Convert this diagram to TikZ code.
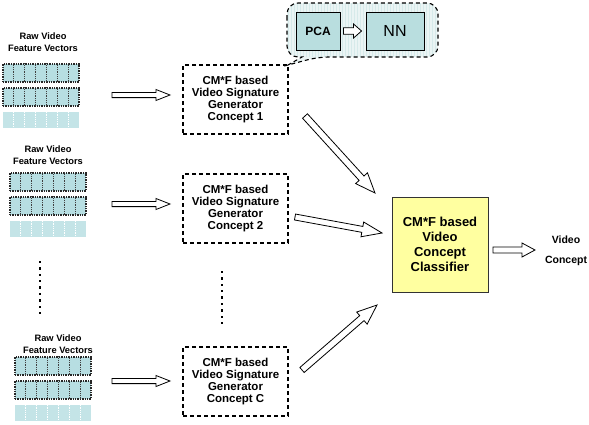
\documentclass[tikz,border=0pt]{standalone}
\usepackage{fontspec}
\setmainfont{Liberation Sans}
\usetikzlibrary{calc}
\definecolor{barfill}{RGB}{183,222,226}
\definecolor{barlightfill}{RGB}{196,228,231}
\definecolor{cloudfill}{RGB}{234,244,244}
\definecolor{cloudgrid}{RGB}{214,234,234}
\definecolor{boxfill}{RGB}{185,222,223}
\definecolor{yellowfill}{RGB}{255,255,160}
\tikzset{
  bar/.style={draw=black!85, densely dotted, line width=1.4pt, fill=barfill, minimum width=76pt, minimum height=18pt, inner sep=0pt},
  barlight/.style={fill=barlightfill, minimum width=76pt, minimum height=16pt, inner sep=0pt},
  divdark/.style={draw=black!75, densely dotted, line width=0.8pt},
  divlight/.style={draw=white, densely dotted, line width=0.8pt},
  lbl/.style={align=center, font=\bfseries\fontsize{9.3}{12}\selectfont, inner sep=0pt},
  gen/.style={draw=black, dashed, dash pattern=on 4pt off 3pt, line width=1.1pt, align=center, minimum width=105pt, minimum height=69pt, inner sep=0pt, font=\bfseries\fontsize{11.5}{12}\selectfont},
  classif/.style={draw=black!80, line width=0.6pt, fill=yellowfill, align=center, minimum width=96pt, minimum height=95pt, inner sep=0pt, font=\bfseries\fontsize{13}{15}\selectfont},
  smallbox/.style={draw=black, line width=0.9pt, fill=boxfill, inner sep=0pt},
  barrow/.style={draw=black, line width=0.8pt, fill=white, line join=miter},
  callout/.style={draw=black, dashed, dash pattern=on 4pt off 3pt, line width=1.1pt},
  outlbl/.style={align=center, font=\bfseries\fontsize{10.5}{20}\selectfont, inner sep=0pt},
  dotsq/.style={fill=black}
}
\newcommand{\fvgroup}[3]{%
  \node[bar] (#1a) at (#2,#3) {};
  \node[bar] (#1b) at (#2,#3+24) {};
  \node[barlight] (#1c) at (#2,#3+47) {};
  \foreach \n/\s in {a/divdark,b/divdark,c/divlight}{
    \foreach \i in {1,...,6}
      \draw[\s] ($(#1\n.north west)!\i/7!(#1\n.north east)$) -- ($(#1\n.south west)!\i/7!(#1\n.south east)$);
  }%
}
\newcommand{\blockarr}[5]{%
  \coordinate (bh) at ($(#2)!#5!(#1)$);
  \draw[barrow] ($(#1)!#3!90:(#2)$) -- ($(bh)!#3!90:(#2)$) -- ($(bh)!#4!90:(#2)$) -- (#2)
    -- ($(bh)!#4!-90:(#2)$) -- ($(bh)!#3!-90:(#2)$) -- ($(#1)!#3!-90:(#2)$) -- cycle;%
}
\begin{document}
\begin{tikzpicture}[x=1pt,y=-1pt]
\useasboundingbox (0,0) rectangle (589,424);

% callout cloud
\path[fill=cloudfill] (287,30) [rounded corners=11pt] -- (287,3) -- (438,3) -- (438,57) -- (318,57) [sharp corners] -- (288,65) -- (302,57) [rounded corners=11pt] -- (287,57) -- cycle;
\begin{scope}
  \clip[rounded corners=11pt] (287,3) rectangle (438,57);
  \draw[cloudgrid, line width=0.4pt, step=3] (287,3) grid (438,57);
\end{scope}
\draw[callout] (287,30) [rounded corners=11pt] -- (287,3) -- (438,3) -- (438,57) -- (318,57) [sharp corners] -- (288,65) -- (302,57) [rounded corners=11pt] -- (287,57) -- cycle;
\node[smallbox, minimum width=44pt, minimum height=38pt, font=\bfseries\fontsize{12}{13}\selectfont] (pca) at (318,31) {PCA};
\node[smallbox, minimum width=58pt, minimum height=38pt, font=\fontsize{16}{17}\selectfont] (nn) at (395,31) {NN};
\coordinate (pa1) at ($(pca.east)+(3,0)$);
\coordinate (pa2) at ($(nn.west)+(-4,0)$);
\blockarr{pa1}{pa2}{3.2pt}{7pt}{8pt}

% feature vector groups
\node[lbl] (lab1) at (43,42) {Raw Video\\Feature Vectors};
\fvgroup{ga}{41}{73}
\node[lbl] (lab2) at (48,155) {Raw Video\\Feature Vectors};
\fvgroup{gb}{48}{182}
\node[lbl] (lab3) at (58,344) {Raw Video\\Feature Vectors};
\fvgroup{gc}{53}{366}

% vertical dots
\foreach \k in {0,...,8} \fill[dotsq] (38.8,{262+6.4*\k-1.2}) rectangle ++(2.4,2.4);
\foreach \k in {0,...,8} \fill[dotsq] (220.8,{272+6.4*\k-1.2}) rectangle ++(2.4,2.4);

% generators
\node[gen] (gen1) at (235.5,99.5) {CM*F based\\Video Signature\\Generator\\Concept 1};
\node[gen] (gen2) at (235.5,208.5) {CM*F based\\Video Signature\\Generator\\Concept 2};
\node[gen] (gen3) at (235.5,381.5) {CM*F based\\Video Signature\\Generator\\Concept C};

% classifier
\node[classif] (cls) at (440,244.5) {CM*F based\\Video\\Concept\\Classifier};
\node[outlbl] (out) at (566,251) {Video\\Concept};

% arrows bars -> generators
\coordinate (h1s) at (112,95); \coordinate (h1e) at (170,95);
\coordinate (h2s) at (112,204); \coordinate (h2e) at (170,204);
\coordinate (h3s) at (112,381); \coordinate (h3e) at (170,381);
\blockarr{h1s}{h1e}{2.6pt}{5.5pt}{14pt}
\blockarr{h2s}{h2e}{2.6pt}{5.5pt}{14pt}
\blockarr{h3s}{h3e}{2.6pt}{5.5pt}{14pt}

% arrows generators -> classifier
\coordinate (d1s) at (305,116); \coordinate (d1e) at (375,193);
\coordinate (d2s) at (295,217); \coordinate (d2e) at (382,233);
\coordinate (d3s) at (302,370); \coordinate (d3e) at (377,305);
\blockarr{d1s}{d1e}{3.3pt}{8pt}{20pt}
\blockarr{d2s}{d2e}{3pt}{7.5pt}{20pt}
\blockarr{d3s}{d3e}{3.3pt}{8pt}{20pt}

% output arrow
\coordinate (os) at (493,250); \coordinate (oe) at (535,250);
\blockarr{os}{oe}{3pt}{7pt}{13pt}
\end{tikzpicture}
\end{document}
